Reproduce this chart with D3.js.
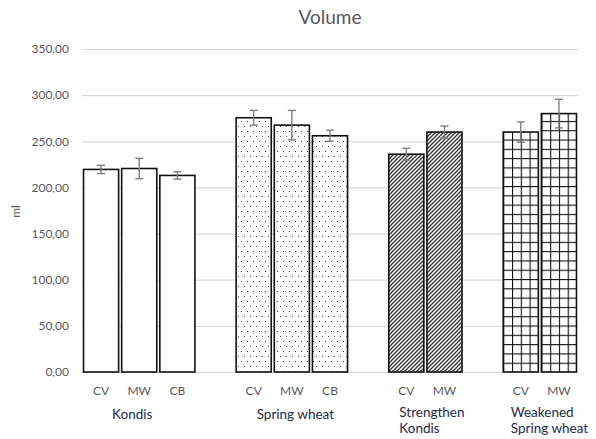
<!DOCTYPE html>
<html>
<head>
<meta charset="utf-8">
<script src="https://cdn.jsdelivr.net/npm/d3@7"></script>
<style>
  html, body { margin: 0; padding: 0; background: #fff; }
  svg { display: block; font-family: Lato, "Open Sans", sans-serif; }
</style>
</head>
<body>
<svg id="chart" width="596" height="439"></svg>
<script>
// Slots along the x axis; empty strings are spacer slots between groups
const slots = ["K-CV", "K-MW", "K-CB", "gap1", "S-CV", "S-MW", "S-CB", "gap2", "SK-CV", "SK-MW", "gap3", "WS-CV", "WS-MW"];
const barSlots = ["K-CV", "K-MW", "K-CB", "S-CV", "S-MW", "S-CB", "SK-CV", "SK-MW", "WS-CV", "WS-MW"];
const barLabels = ["CV", "MW", "CB", "CV", "MW", "CB", "CV", "MW", "CV", "MW"];
const barGroups = ["kondis", "kondis", "kondis", "spring", "spring", "spring", "strong", "strong", "weak", "weak"];
const volumes = [219.5, 220.5, 213, 275.5, 267.5, 256, 236, 260, 260, 280];
const errors = [4.5, 11, 4, 8, 16, 6, 6.5, 6.5, 11, 15.5];
const yTicks = [0, 50, 100, 150, 200, 250, 300, 350];

// Group captions: first slot of each group and text lines
const groupFirstSlot = ["K-CV", "S-CV", "SK-CV", "WS-CV"];
const groupCaptions = [["Kondis"], ["Spring wheat"], ["Strengthen", "Kondis"], ["Weakened", "Spring wheat"]];
const groupCaptionShift = [11, 3, -7, -10];

const svg = d3.select("#chart");
const margin = { left: 82, right: 18, top: 49, bottom: 67 };
const W = 596, H = 439;

const x = d3.scaleBand().domain(slots).range([margin.left, W - margin.right]).paddingInner(0.08).paddingOuter(0.04);
const y = d3.scaleLinear().domain([0, 350]).range([H - margin.bottom, margin.top]);

// Fill patterns
const defs = svg.append("defs");

const dots = defs.append("pattern").attr("id", "dots")
  .attr("patternUnits", "userSpaceOnUse").attr("width", 6).attr("height", 10);
dots.append("rect").attr("width", 6).attr("height", 10).attr("fill", "#fff");
dots.append("rect").attr("x", 1).attr("y", 1).attr("width", 1).attr("height", 1).attr("fill", "#333");
dots.append("rect").attr("x", 4).attr("y", 6).attr("width", 1).attr("height", 1).attr("fill", "#555");

const hatch = defs.append("pattern").attr("id", "hatch")
  .attr("patternUnits", "userSpaceOnUse").attr("width", 4).attr("height", 4);
hatch.append("rect").attr("width", 4).attr("height", 4).attr("fill", "#fff");
hatch.append("path").attr("d", "M-1,1 l2,-2 M0,4 l4,-4 M3,5 l2,-2")
  .attr("stroke", "#333").attr("stroke-width", 1.3);

// One grid pattern per bar so the cells line up with the bar's edges
barSlots.forEach((s, i) => {
  if (barGroups[i] !== "weak") return;
  const p = defs.append("pattern").attr("id", "grid-" + i)
    .attr("patternUnits", "userSpaceOnUse")
    .attr("x", x(s)).attr("y", y(0))
    .attr("width", x.bandwidth() / 4).attr("height", 9.3);
  p.append("rect").attr("width", x.bandwidth() / 4).attr("height", 9.3).attr("fill", "#fff");
  p.append("line").attr("x1", 0).attr("x2", 0).attr("y1", 0).attr("y2", 9.3)
    .attr("stroke", "#111").attr("stroke-width", 2.2);
  p.append("line").attr("x1", 0).attr("x2", x.bandwidth() / 4).attr("y1", 0).attr("y2", 0)
    .attr("stroke", "#111").attr("stroke-width", 2.2);
});

function fillFor(i) {
  switch (barGroups[i]) {
    case "spring": return "url(#dots)";
    case "strong": return "url(#hatch)";
    case "weak": return "url(#grid-" + i + ")";
    default: return "#fff";
  }
}

// Title
svg.append("text").attr("x", (margin.left + W - margin.right) / 2).attr("y", 24)
  .attr("text-anchor", "middle").attr("font-size", 19).attr("fill", "#595959").text("Volume");

// Y axis with gridlines
const yAxis = d3.axisLeft(y).tickValues(yTicks)
  .tickSize(-(W - margin.right - margin.left))
  .tickFormat(d => d3.format(".2f")(d).replace(".", ","));
const gy = svg.append("g").attr("transform", `translate(${margin.left},0)`).call(yAxis);
gy.select(".domain").remove();
gy.selectAll(".tick line").attr("stroke", "#d9d9d9").attr("stroke-width", 1.2);
gy.selectAll(".tick text").attr("x", -13).attr("font-size", 12).attr("fill", "#595959")
  .attr("font-family", "Lato, sans-serif");

// Y axis title
svg.append("text").attr("transform", `translate(20,${(y(0) + y(350)) / 2 + 1}) rotate(-90)`)
  .attr("text-anchor", "middle").attr("font-size", 12).attr("fill", "#595959").text("ml");

// Bars
svg.append("g").selectAll("rect").data(volumes).join("rect")
  .attr("x", (d, i) => x(barSlots[i]))
  .attr("y", d => y(d))
  .attr("width", x.bandwidth())
  .attr("height", d => y(0) - y(d))
  .attr("fill", (d, i) => fillFor(i))
  .attr("stroke", "#111").attr("stroke-width", 1.6);

// Error bars
const eb = svg.append("g").attr("stroke", "#7f7f7f").attr("stroke-width", 1.4).attr("fill", "none");
volumes.forEach((v, i) => {
  const cx = x(barSlots[i]) + x.bandwidth() / 2;
  const e = errors[i];
  eb.append("line").attr("x1", cx).attr("x2", cx).attr("y1", y(v + e)).attr("y2", y(v - e));
  eb.append("line").attr("x1", cx - 4).attr("x2", cx + 4).attr("y1", y(v + e)).attr("y2", y(v + e));
  eb.append("line").attr("x1", cx - 4).attr("x2", cx + 4).attr("y1", y(v - e)).attr("y2", y(v - e));
});

// Category labels under each bar
svg.append("g").selectAll("text").data(barLabels).join("text")
  .attr("x", (d, i) => x(barSlots[i]) + x.bandwidth() / 2)
  .attr("y", y(0) + 23)
  .attr("text-anchor", "middle").attr("font-size", 12).attr("fill", "#595959")
  .text(d => d);

// Group captions
groupCaptions.forEach((lines, g) => {
  const sx = x(groupFirstSlot[g]) + x.bandwidth() / 2 + groupCaptionShift[g];
  const t = svg.append("text").attr("x", sx).attr("y", y(0) + (lines.length > 1 ? 45 : 47))
    .attr("font-size", 13.5).attr("fill", "#1e2a44");
  lines.forEach((ln, k) => {
    t.append("tspan").attr("x", sx).attr("dy", k === 0 ? 0 : 16).text(ln);
  });
});
</script>
</body>
</html>
